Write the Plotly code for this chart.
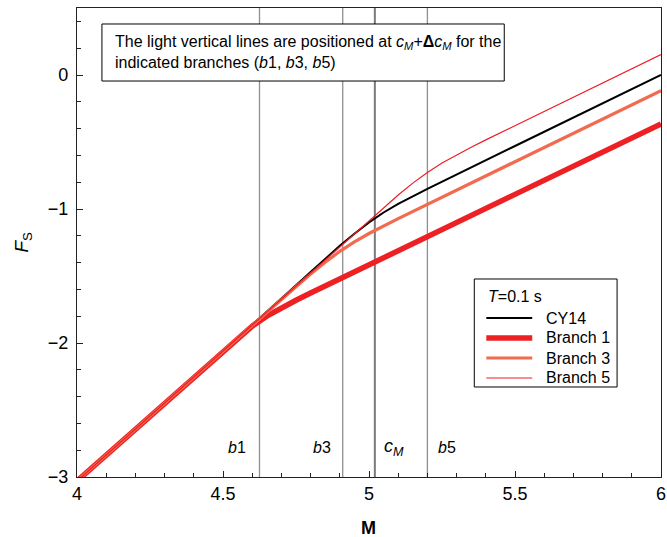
import plotly.graph_objects as go

# Magnitude scaling of F_S at T = 0.1 s
m_cy14 = [4.0, 4.5, 4.7, 4.8, 4.85, 4.9, 4.95, 5.0, 5.05, 5.1, 5.15, 5.2, 5.5, 6.0]
f_cy14 = [-3.03, -2.06, -1.668, -1.470, -1.370, -1.275, -1.184, -1.100, -1.026, -0.962, -0.905, -0.849, -0.530, 0.0]

m_b1 = [4.0, 4.3, 4.4, 4.45, 4.5, 4.55, 4.6, 4.65, 4.7, 4.75, 4.8, 4.9, 5.0, 5.5, 6.0]
f_b1 = [-3.03, -2.448, -2.250, -2.152, -2.060, -1.966, -1.874, -1.800, -1.737, -1.681, -1.627, -1.521, -1.416, -0.891, -0.366]

m_b3 = [4.0, 4.5, 4.65, 4.7, 4.75, 4.8, 4.85, 4.9, 4.95, 5.0, 5.05, 5.1, 5.5, 6.0]
f_b3 = [-3.03, -2.06, -1.768, -1.671, -1.580, -1.486, -1.397, -1.316, -1.245, -1.183, -1.126, -1.072, -0.647, -0.117]

m_b5 = [4.0, 4.5, 4.8, 4.9, 4.95, 5.0, 5.05, 5.1, 5.15, 5.2, 5.25, 5.3, 5.35, 5.4, 5.5, 6.0]
f_b5 = [-3.03, -2.06, -1.478, -1.284, -1.185, -1.085, -0.989, -0.896, -0.807, -0.727, -0.657, -0.596, -0.539, -0.484, -0.378, 0.152]

# Vertical marker positions: c_M and c_M + delta c_M for branches 1, 3, 5
c_m = 5.02
branch_marks = [4.625, 4.91, 5.2]
branch_tags = ["b1", "b3", "b5"]

series_names = ["CY14", "Branch 1", "Branch 3", "Branch 5"]
series_colors = ["#000000", "#ED2024", "#F26A4F", "#EE1C25"]
series_widths = [2.0, 5.5, 3.2, 1.2]

FONT = "Liberation Sans, Arial, Helvetica, sans-serif"

fig = go.Figure()

series = [(m_cy14, f_cy14), (m_b1, f_b1), (m_b3, f_b3), (m_b5, f_b5)]
for (mx, fy), name, col, w in zip(series, series_names, series_colors, series_widths):
    fig.add_trace(go.Scatter(
        x=mx, y=fy, mode="lines", name=name,
        line=dict(color=col, width=w),
        showlegend=False,
    ))

shapes = []
annotations = []

# light vertical lines for the branches, darker one at c_M
for xv in branch_marks:
    shapes.append(dict(type="line", xref="x", yref="paper", x0=xv, x1=xv, y0=0, y1=1,
                       line=dict(color="#8f8f8f", width=1.3), layer="below"))
shapes.append(dict(type="line", xref="x", yref="paper", x0=c_m, x1=c_m, y0=0, y1=1,
                   line=dict(color="#7a7a7a", width=2), layer="below"))

label_y = -2.78
label_shift = {"b1": (-12, "right"), "b3": (-10, "right"), "b5": (9, "left")}
for xv, tag in zip(branch_marks, branch_tags):
    sh, anchor = label_shift[tag]
    annotations.append(dict(x=xv, y=label_y, xref="x", yref="y", showarrow=False,
                            text="<i>b</i>" + tag[1:], xanchor=anchor, xshift=sh,
                            font=dict(family=FONT, size=16, color="#000")))
annotations.append(dict(x=c_m, y=label_y, xref="x", yref="y", showarrow=False,
                        text="<i>c</i><sub><i>M</i></sub>", xanchor="left", xshift=7,
                        font=dict(family=FONT, size=18, color="#000")))

# note box at the top
shapes.append(dict(type="rect", xref="paper", yref="paper",
                   x0=0.0427, x1=0.7316, y0=0.8443, y1=0.9659,
                   line=dict(color="#000", width=1), fillcolor="white", layer="above"))
annotations.append(dict(x=0.0615, y=0.9055, xref="paper", yref="paper", showarrow=False,
                        xanchor="left", yanchor="middle", align="left",
                        text="The light vertical lines are positioned at <i>c</i><sub><i>M</i></sub>+<b>Δ</b><i>c</i><sub><i>M</i></sub> for the<br>indicated branches (<i>b</i>1, <i>b</i>3, <i>b</i>5)",
                        font=dict(family=FONT, size=16, color="#000")))

# legend box
shapes.append(dict(type="rect", xref="paper", yref="paper",
                   x0=0.6803, x1=0.9248, y0=0.1919, y1=0.4222,
                   line=dict(color="#000", width=1), fillcolor="white", layer="above"))
annotations.append(dict(x=0.7009, y=0.3838, xref="paper", yref="paper", showarrow=False,
                        xanchor="left", yanchor="middle", text="<i>T</i>=0.1 s",
                        font=dict(family=FONT, size=16, color="#000")))
legend_rows = [0.3390, 0.2964, 0.2537, 0.2111]
for yr, name, col, w in zip(legend_rows, series_names, series_colors, series_widths):
    shapes.append(dict(type="line", xref="paper", yref="paper", x0=0.7009, x1=0.7795,
                       y0=yr, y1=yr, line=dict(color=col, width=w), layer="above"))
    annotations.append(dict(x=0.80, y=yr, xref="paper", yref="paper", showarrow=False,
                            xanchor="left", yanchor="middle", text=name,
                            font=dict(family=FONT, size=16, color="#000")))

# axis titles
annotations.append(dict(x=-0.094, y=0.5, xref="paper", yref="paper", showarrow=False,
                        xanchor="center", yanchor="middle",
                        text="<i>F</i><sub>S</sub>", textangle=-90,
                        font=dict(family=FONT, size=19, color="#000")))
annotations.append(dict(x=0.499, y=-0.1087, xref="paper", yref="paper", showarrow=False,
                        xanchor="center", yanchor="middle", text="<b>M</b>",
                        font=dict(family=FONT, size=18, color="#000")))

axis_common = dict(showgrid=False, zeroline=False, showline=True, mirror=True,
                   linecolor="#222", linewidth=1.3, ticks="inside", ticklen=6,
                   tickwidth=1.2, tickcolor="#222", automargin=False,
                   tickfont=dict(family=FONT, size=18, color="#000"))

fig.update_layout(
    width=667, height=537,
    margin=dict(l=77, r=6, t=8, b=60),
    plot_bgcolor="white", paper_bgcolor="white",
    xaxis=dict(range=[4, 6], tick0=4, dtick=0.5,
               minor=dict(dtick=0.1, ticks="inside", ticklen=3.5, tickcolor="#222", tickwidth=1),
               **axis_common),
    yaxis=dict(range=[-3, 0.5], tick0=-3, dtick=1, ticklabelstandoff=4,
               minor=dict(dtick=0.2, ticks="inside", ticklen=3.5, tickcolor="#222", tickwidth=1),
               **axis_common),
    shapes=shapes,
    annotations=annotations,
    showlegend=False,
)

fig.write_html("out.html")
